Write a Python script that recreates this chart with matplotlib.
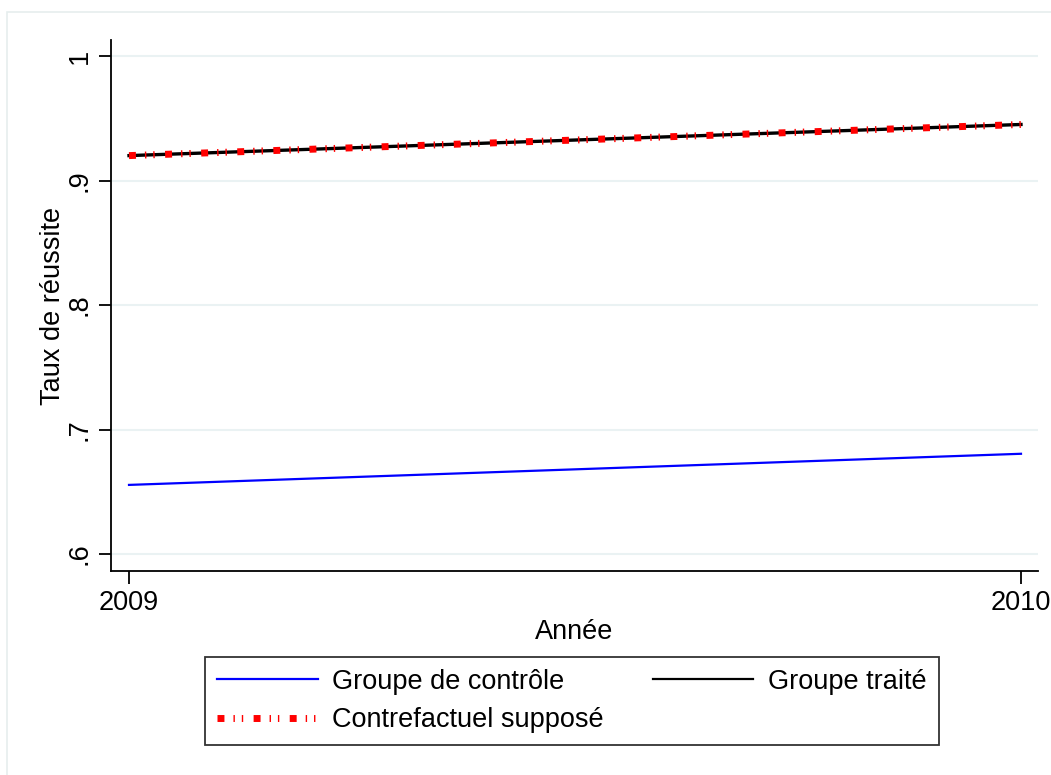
import matplotlib.pyplot as plt
from matplotlib.lines import Line2D
from matplotlib.patches import Rectangle

plt.rcParams['font.family'] = ['Liberation Sans', 'DejaVu Sans']

# data
years = [2009, 2010]
controle = [0.6555, 0.6805]
traite = [0.920, 0.945]
contrefactuel = [0.920, 0.945]
yticks = [0.6, 0.7, 0.8, 0.9, 1.0]
yticklabels = ['.6', '.7', '.8', '.9', '1']

fs = 19.5

fig = plt.figure(figsize=(10.51, 7.75), dpi=100)
ax = fig.add_axes([111/1051, 1 - 571/775, (1038 - 111)/1051, (571 - 40)/775])

# faint outer frame (stata graph region)
fig.patches.append(Rectangle((7/1051, -0.1), 1.2, 1 - 12/775 + 0.1, transform=fig.transFigure,
                             fill=False, edgecolor='#e6eeee', lw=1.2))

grid_c = '#eaf2f3'
for y in yticks:
    ax.axhline(y, color=grid_c, lw=1.5, zorder=0)

red_dash = (0, (1.0, 1.3, 0.2, 1.0, 0.2, 1.5))
ax.plot(years, controle, color='#0000ff', lw=1.6, zorder=2)
ax.plot(years, traite, color='black', lw=2.4, zorder=3)
ax.plot(years, contrefactuel, color='#ff0000', lw=5, linestyle=red_dash,
        dash_capstyle='butt', zorder=4)

ax.set_xlim(2009 - 18/892, 2010 + 17/892)
ax.set_ylim(0.6 - 17/1245, 1.0 + 16/1245)
ax.set_yticks(yticks)
ax.set_yticklabels(yticklabels, rotation=90, va='center')
ax.set_xticks(years)
ax.set_xticklabels(['2009', '2010'])
ax.tick_params(labelsize=fs, length=9, width=1.3, pad=5)
ax.tick_params(axis='y', pad=4)

for s in ['top', 'right']:
    ax.spines[s].set_visible(False)
for s in ['left', 'bottom']:
    ax.spines[s].set_linewidth(1.3)

ax.set_xlabel('Année', fontsize=fs, labelpad=2)
ax.set_ylabel('Taux de réussite', fontsize=fs, labelpad=1)

handles = [Line2D([], [], color='#0000ff', lw=1.6),
           Line2D([], [], color='black', lw=1.6),
           Line2D([], [], color='#ff0000', lw=5, linestyle=red_dash, dash_capstyle='butt')]
labels = ['Groupe de contrôle', 'Groupe traité', 'Contrefactuel supposé']
# stata legend order: row1 = controle, traite ; row2 = contrefactuel
leg = fig.legend([handles[0], handles[2], handles[1]], [labels[0], labels[2], labels[1]],
                 ncol=2, loc='center', bbox_to_anchor=(572/1051, 1 - 701/775),
                 fontsize=fs, frameon=True, fancybox=False, edgecolor='black',
                 handlelength=3.7, handletextpad=0.55, columnspacing=1.8,
                 borderpad=0.45, labelspacing=0.45)
leg.get_frame().set_linewidth(1.3)

fig.savefig('out.png', dpi=100)
